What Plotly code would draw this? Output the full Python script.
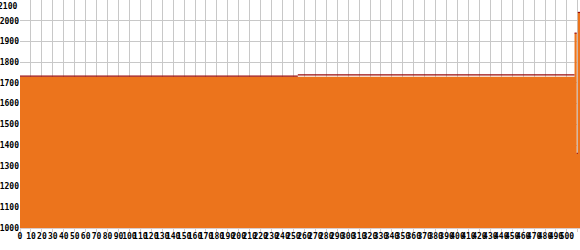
import plotly.graph_objects as go

# Area series (step), breakpoints
area_x = [0, 507, 509, 510, 512]
area_y = [1730, 1940, 1360, 2040, 2040]

# Line series (level held from each breakpoint to the next)
line_x = [0, 254, 507, 509, 510, 512]
line_y = [1733, 1739, 1940, 1360, 2040, 2040]

x_ticks = list(range(0, 520, 10))
y_ticks = list(range(1000, 2100, 100))

ORANGE = "#EC741C"
DARKRED = "#9A0A0A"
GRID = "#C8C8C8"

# horizontal segments of the line series
seg_x, seg_y = [], []
for i in range(len(line_x) - 1):
    seg_x += [line_x[i], line_x[i + 1], None]
    seg_y += [line_y[i], line_y[i], None]

tf = dict(family="DejaVu Sans Mono", size=8, color="black", weight="bold")

fig = go.Figure()
fig.add_trace(go.Scatter(
    x=area_x, y=area_y, mode="lines", line_shape="hv",
    fill="tozeroy", fillcolor=ORANGE, line=dict(color=ORANGE, width=0),
    hoverinfo="skip", showlegend=False))
fig.add_trace(go.Scatter(
    x=seg_x, y=seg_y, mode="lines",
    line=dict(color=DARKRED, width=1.2),
    hoverinfo="skip", showlegend=False))

fig.update_layout(
    width=580, height=250,
    margin=dict(l=20, r=0, t=0, b=22),
    paper_bgcolor="white", plot_bgcolor="white",
    font=tf,
    xaxis=dict(range=[0, 512], tickmode="array", tickvals=x_ticks,
               ticktext=[str(v) for v in x_ticks],
               showgrid=True, gridcolor=GRID, gridwidth=1,
               zeroline=False, showline=True, linecolor="#D8CCCC",
               ticks="outside", ticklen=3, tickcolor="#D8CCCC",
               ticklabelstandoff=-3,
               tickangle=0, tickfont=tf),
    yaxis=dict(range=[1000, 2100], tickmode="array", tickvals=y_ticks,
               ticktext=[str(v) for v in y_ticks],
               showgrid=True, gridcolor=GRID, gridwidth=1,
               zeroline=False, showline=False, ticks="", ticklen=0,
               tickfont=tf),
    annotations=[dict(x=0, y=2100, xref="x", yref="y", text="2100",
                      showarrow=False, xanchor="right", yanchor="top",
                      xshift=-1, yshift=0, font=tf)],
)

fig.write_html("out.html")
